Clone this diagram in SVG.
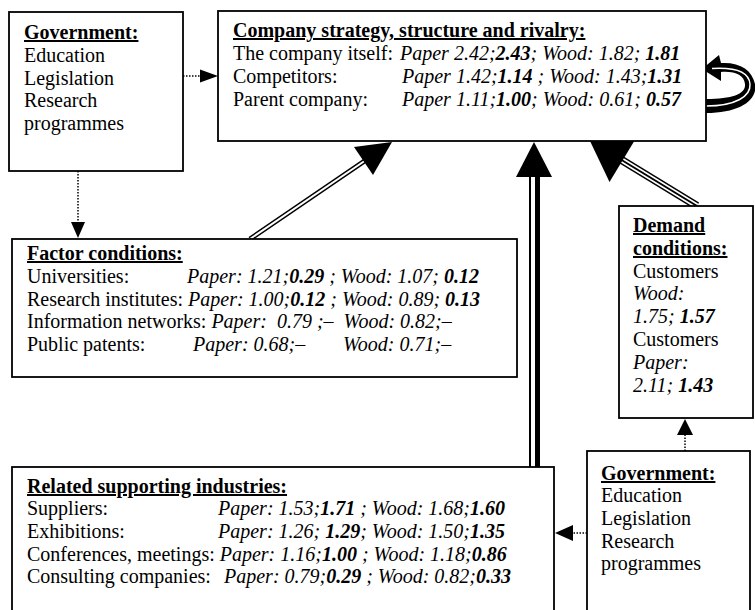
<svg xmlns="http://www.w3.org/2000/svg" width="755" height="610" viewBox="0 0 755 610">
<style>
text{font-family:"Liberation Serif","Times New Roman",serif;font-size:20px;fill:#000}
.h{font-weight:bold;text-decoration:underline}
.i{font-style:italic}
.bi{font-style:italic;font-weight:bold}
.box{fill:#fff;stroke:#000;stroke-width:1.8}
.dot{stroke:#000;stroke-width:1.5;stroke-dasharray:1.5 1.5;fill:none}
.head{fill:#000;stroke:none}
</style>
<g id="connectors">
  <line class="dot" x1="183" y1="76" x2="201" y2="76"/>
  <polygon class="head" points="200,69.5 218,76 200,82.5"/>
  <line class="dot" x1="78" y1="171" x2="78" y2="223"/>
  <polygon class="head" points="71,222 85,222 78,238"/>
  <line class="dot" x1="685" y1="451" x2="685" y2="434"/>
  <polygon class="head" points="677,435 693,435 685,419"/>
  <line class="dot" x1="587" y1="533" x2="572" y2="533"/>
  <polygon class="head" points="573,525 573,541 555,533"/>
  <g id="factor-arrow">
    <line x1="250" y1="239" x2="366" y2="160" stroke="#000" stroke-width="5"/>
    <line x1="250" y1="239" x2="366" y2="160" stroke="#fff" stroke-width="2"/>
    <polygon class="head" points="392,142 373,175 354,147"/>
  </g>
  <g id="related-arrow">
    <rect x="529" y="176" width="2" height="291" fill="#000"/>
    <rect x="535" y="176" width="5" height="291" fill="#000"/>
    <polygon class="head" points="534,142 516,177 552,177"/>
  </g>
  <g id="demand-arrow">
    <line x1="697" y1="206" x2="620" y2="159" stroke="#000" stroke-width="8"/>
    <line x1="697" y1="206" x2="620" y2="159" stroke="#fff" stroke-width="5"/>
    <line x1="697" y1="206" x2="620" y2="159" stroke="#000" stroke-width="2"/>
    <polygon class="head" points="590,141 635.5,139 609.5,182"/>
  </g>
  <g id="rivalry-arrow">
    <path d="M706,113 C740,113 758,100 755,84 C752,70 740,62 721,63 L719,55 L702,69 L721,81 L721,72 C735,71 744,75 745,84 C746,94 733,99 706,99 Z" fill="#000"/>
    <path d="M706,106 C736,106 751,96 750,84 C749,73 738,67 712,68.5" fill="none" stroke="#fff" stroke-width="1.5"/>
  </g>
</g>
<g id="gov-top">
  <rect class="box" x="9" y="12" width="174" height="159"/>
  <text x="24" y="39" class="h">Government:</text>
  <text x="24" y="62">Education</text>
  <text x="24" y="85">Legislation</text>
  <text x="24" y="107">Research</text>
  <text x="24" y="130">programmes</text>
</g>
<g id="company">
  <rect class="box" x="218" y="11" width="488" height="130"/>
  <text x="233" y="37" class="h">Company strategy, structure and rivalry:</text>
  <text x="233" y="60" xml:space="preserve">The company itself: <tspan x="400" class="i">Paper 2.42;</tspan><tspan class="bi">2.43</tspan><tspan class="i">; Wood: 1.82; </tspan><tspan class="bi">1.81</tspan></text>
  <text x="233" y="83" xml:space="preserve">Competitors:<tspan x="402" class="i">Paper 1.42;</tspan><tspan class="bi">1.14</tspan><tspan class="i"> ; Wood: 1.43;</tspan><tspan class="bi">1.31</tspan></text>
  <text x="233" y="106" xml:space="preserve">Parent company:<tspan x="402" class="i">Paper 1.11;</tspan><tspan class="bi">1.00</tspan><tspan class="i">; Wood: 0.61; </tspan><tspan class="bi">0.57</tspan></text>
</g>
<g id="factor">
  <rect class="box" x="12" y="239" width="505" height="138"/>
  <text x="27" y="260" class="h">Factor conditions:</text>
  <text x="27" y="283" xml:space="preserve">Universities:<tspan x="187" class="i">Paper: 1.21;</tspan><tspan class="bi">0.29</tspan><tspan class="i"> ; Wood: 1.07; </tspan><tspan class="bi">0.12</tspan></text>
  <text x="27" y="305.5" xml:space="preserve">Research institutes: <tspan class="i">Paper: 1.00;</tspan><tspan class="bi">0.12</tspan><tspan class="i"> ; Wood: 0.89; </tspan><tspan class="bi">0.13</tspan></text>
  <text x="27" y="328" xml:space="preserve">Information networks: <tspan class="i">Paper:  0.79 ;–  Wood: 0.82;–</tspan></text>
  <text x="27" y="350.5" xml:space="preserve">Public patents:<tspan x="193" class="i">Paper: 0.68;–</tspan><tspan x="343" class="i">Wood: 0.71;–</tspan></text>
</g>
<g id="demand">
  <rect class="box" x="619" y="206" width="134" height="212"/>
  <text x="633" y="232" class="h">Demand</text>
  <text x="633" y="255" class="h">conditions:</text>
  <text x="633" y="278">Customers</text>
  <text x="633" y="300" class="i">Wood:</text>
  <text x="633" y="323" xml:space="preserve"><tspan class="i">1.75; </tspan><tspan class="bi">1.57</tspan></text>
  <text x="633" y="346">Customers</text>
  <text x="633" y="369" class="i">Paper:</text>
  <text x="633" y="392" xml:space="preserve"><tspan class="i">2.11; </tspan><tspan class="bi">1.43</tspan></text>
</g>
<g id="related">
  <rect class="box" x="12" y="467" width="542" height="160"/>
  <text x="27" y="493" class="h">Related supporting industries:</text>
  <text x="27" y="515" xml:space="preserve">Suppliers:<tspan x="218" class="i">Paper: 1.53;</tspan><tspan class="bi">1.71</tspan><tspan class="i"> ; Wood: 1.68;</tspan><tspan class="bi">1.60</tspan></text>
  <text x="27" y="538" xml:space="preserve">Exhibitions:<tspan x="218" class="i">Paper: 1.26; </tspan><tspan class="bi">1.29</tspan><tspan class="i">; Wood: 1.50;</tspan><tspan class="bi">1.35</tspan></text>
  <text x="27" y="561" xml:space="preserve">Conferences, meetings: <tspan class="i">Paper: 1.16;</tspan><tspan class="bi">1.00</tspan><tspan class="i"> ; Wood: 1.18;</tspan><tspan class="bi">0.86</tspan></text>
  <text x="27" y="583" xml:space="preserve">Consulting companies:<tspan x="224" class="i">Paper: 0.79;</tspan><tspan class="bi">0.29</tspan><tspan class="i"> ; Wood: 0.82;</tspan><tspan class="bi">0.33</tspan></text>
</g>
<g id="gov-bottom">
  <rect class="box" x="587" y="451" width="163" height="176"/>
  <text x="601" y="480" class="h">Government:</text>
  <text x="601" y="502">Education</text>
  <text x="601" y="525">Legislation</text>
  <text x="601" y="548">Research</text>
  <text x="601" y="570">programmes</text>
</g>
</svg>
